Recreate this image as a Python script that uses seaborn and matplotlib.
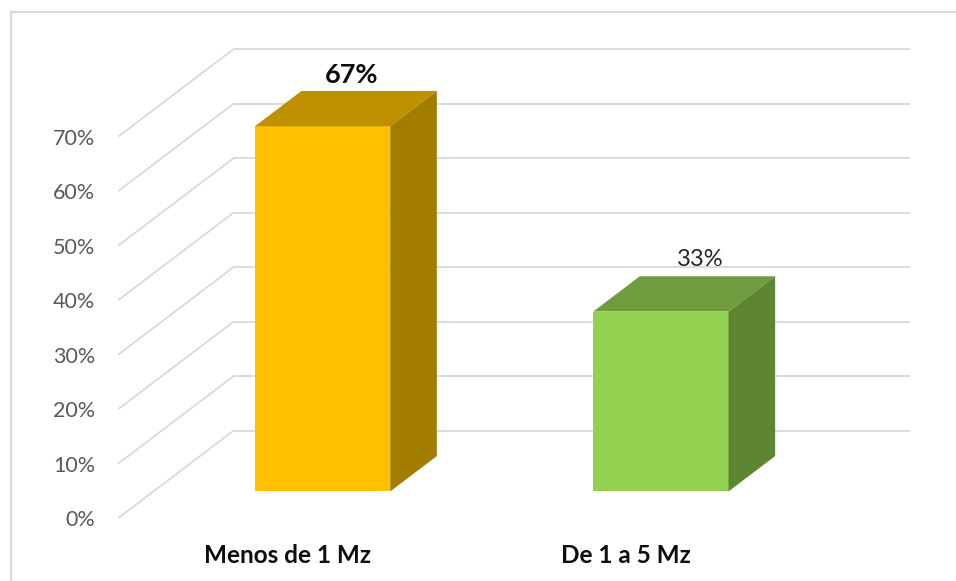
import numpy as np
import matplotlib
matplotlib.use("Agg")
import matplotlib.pyplot as plt
from matplotlib.patches import Polygon
from matplotlib.lines import Line2D
import seaborn as sns

# data
categories = ["Menos de 1 Mz", "De 1 a 5 Mz"]
values = [67, 33]
value_labels = ["67%", "33%"]
yticks = [0, 10, 20, 30, 40, 50, 60, 70]

front_colors = ["#FFC000", "#92D050"]
top_colors = ["#BF9000", "#6F9C3D"]
side_colors = ["#A27D00", "#5E8632"]

sns.set_style("white")
plt.rcParams['font.family'] = ['Lato', 'DejaVu Sans']

fig = plt.figure(figsize=(9.56, 5.81), dpi=100)
ax = fig.add_axes([0.1008, 0.0709, 0.8723, 0.8630])

# oblique projection of depth (front plane -> back wall)
ox, oy = 0.34, 16.0
d_front, d_back = 0.305, 0.71
grid_col = "#D9D9D9"

# floor/side wall diagonals and back wall gridlines
for v in yticks:
    ax.plot([-0.5, -0.5 + ox], [v, v + oy], color=grid_col, lw=1.3, zorder=0,
            solid_capstyle="butt")
    ax.plot([-0.5 + ox, 1.5 + ox], [v + oy, v + oy], color=grid_col, lw=1.3,
            zorder=0, solid_capstyle="butt")

sns.barplot(x=categories, y=values, hue=categories, palette=front_colors,
            legend=False, width=0.4, saturation=1, ax=ax, zorder=3)

# push the front faces back into the box and add top/side faces
sx, sy = d_front * ox, d_front * oy
ddx, ddy = (d_back - d_front) * ox, (d_back - d_front) * oy
for i, p in enumerate(ax.patches):
    p.set_x(p.get_x() + sx)
    p.set_y(p.get_y() + sy)
    p.set_edgecolor("none")
    x0, x1 = p.get_x(), p.get_x() + p.get_width()
    y0, y1 = p.get_y(), p.get_y() + p.get_height()
    top = Polygon([(x0, y1), (x1, y1), (x1 + ddx, y1 + ddy), (x0 + ddx, y1 + ddy)],
                  closed=True, facecolor=top_colors[i], edgecolor="none", zorder=3)
    side = Polygon([(x1, y0), (x1 + ddx, y0 + ddy), (x1 + ddx, y1 + ddy), (x1, y1)],
                   closed=True, facecolor=side_colors[i], edgecolor="none", zorder=3)
    ax.add_patch(top)
    ax.add_patch(side)

# value labels above bars
label_dx = [0.19, 0.22]
for i, v in enumerate(values):
    ax.text(i + label_dx[i], v + d_back * oy + 3.0, value_labels[i], ha="center", va="center",
            fontsize=19.5 if i == 0 else 17, fontweight="bold" if i == 0 else "normal",
            color="#0D0D0D" if i == 0 else "#262626", zorder=5)

ax.set_xlim(-0.565, 1.9)
ax.set_ylim(-4, 88)
ax.set_yticks(yticks)
ax.set_yticklabels([f"{t}%" for t in yticks], fontsize=15.5, color="#595959")
ax.set_xticks([0, 1])
ax.set_xticklabels(categories, fontsize=17.5, fontweight="bold", color="#0D0D0D")
ax.tick_params(axis="both", length=0)
ax.tick_params(axis="y", pad=1)
ax.tick_params(axis="x", pad=3)
ax.set_xlabel("")
ax.set_ylabel("")
sns.despine(ax=ax, left=True, bottom=True)

# chart area border (cropped at right and bottom)
fx = 11 / 956
fy = 1 - 12 / 581
fig.add_artist(Line2D([fx, 1.0], [fy, fy], color=grid_col, lw=1.5, transform=fig.transFigure))
fig.add_artist(Line2D([fx, fx], [0.0, fy], color=grid_col, lw=1.5, transform=fig.transFigure))

fig.savefig("out.png", dpi=100)
